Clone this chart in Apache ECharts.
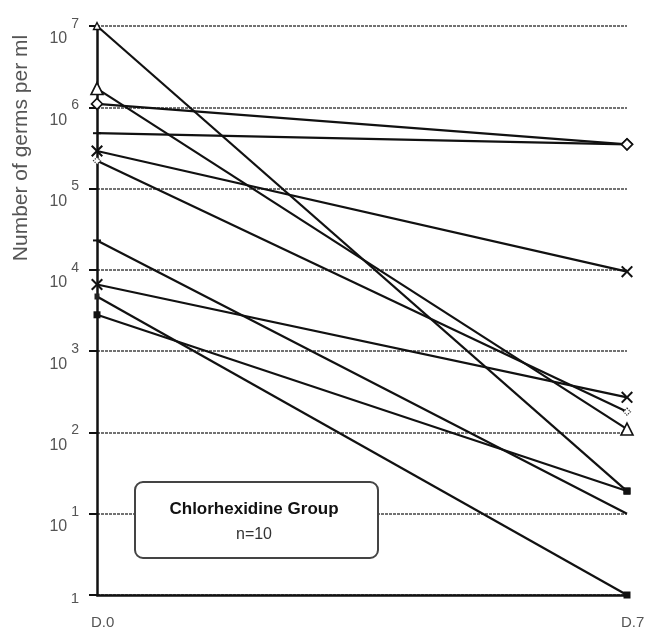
<!DOCTYPE html>
<html><head><meta charset="utf-8">
<script src="https://cdn.jsdelivr.net/npm/echarts@6/dist/echarts.min.js"></script>
<style>html,body{margin:0;padding:0;background:#fff}#c{width:663px;height:636px}</style>
</head><body><div id="c"></div>
<script>
// ---- data ----
const categories = ['D.0', 'D.7'];
const day0 = [1e7, 1.7e6, 1.1e6, 4.8e5, 2.9e5, 2.2e5, 2.3e4, 6.6e3, 4.7e3, 2.8e3];
const day7 = [19, 110, 3.5e5, 3.5e5, 9.5e3, 180, 10, 270, 1, 19];
const yTickValues = [1, 10, 100, 1e3, 1e4, 1e5, 1e6, 1e7];
const boxTitle = 'Chlorhexidine Group';
const boxSub = 'n=10';
const yName = 'Number of germs per ml';

// ---- marker styles (start, end) ----
const X = 'path://M0,1.2 L1.2,0 L5,3.8 L8.8,0 L10,1.2 L6.2,5 L10,8.8 L8.8,10 L5,6.2 L1.2,10 L0,8.8 L3.8,5 Z';
const mk = {
  tri: {symbol: 'triangle', symbolSize: 12, itemStyle: {color: '#fff', borderColor: '#111', borderWidth: 1.6}},
  triS: {symbol: 'triangle', symbolSize: 7, itemStyle: {color: '#fff', borderColor: '#111', borderWidth: 1.4}},
  dia: {symbol: 'diamond', symbolSize: 11, itemStyle: {color: '#fff', borderColor: '#111', borderWidth: 1.6}},
  diaS: {symbol: 'diamond', symbolSize: 7, itemStyle: {color: '#fff', borderColor: '#333', borderWidth: 1.2, borderType: 'dotted'}},
  x: {symbol: X, symbolSize: 12, itemStyle: {color: '#111', borderWidth: 0}},
  sq: {symbol: 'rect', symbolSize: 7, itemStyle: {color: '#111', borderWidth: 0}},
  sqS: {symbol: 'rect', symbolSize: [5, 6], itemStyle: {color: '#222', borderWidth: 0}},
  tick: {symbol: 'rect', symbolSize: [8, 2], itemStyle: {color: '#111', borderWidth: 0}},
  none: {symbol: 'none'}
};
const markers = [
  ['triS', 'sq'], ['tri', 'tri'], ['dia', 'dia'], ['tick', 'dia'], ['x', 'x'],
  ['diaS', 'diaS'], ['tick', 'none'], ['x', 'x'], ['sqS', 'sq'], ['sq', 'sq']
];

const series = day0.map((v, i) => ({
  type: 'line',
  name: 'P' + (i + 1),
  data: [
    Object.assign({value: v}, mk[markers[i][0]]),
    Object.assign({value: day7[i]}, mk[markers[i][1]])
  ],
  showSymbol: true,
  lineStyle: {color: '#111', width: 2.2},
  itemStyle: {color: '#111'},
  emphasis: {disabled: true},
  animation: false,
  z: 3
}));

const FF = 'Liberation Sans, Arial, sans-serif';
const chart = echarts.init(document.getElementById('c'), null, {renderer: 'canvas'});
chart.setOption({
  backgroundColor: '#fff',
  animation: false,
  grid: {left: 97, right: 36, top: 26, bottom: 41},
  xAxis: {
    type: 'category', data: categories, boundaryGap: false,
    axisLine: {lineStyle: {color: '#111', width: 2.5}},
    axisTick: {show: false},
    axisLabel: {color: '#555', fontSize: 15, fontFamily: FF, margin: 20, align: 'left', padding: [0, 0, 0, -6]}
  },
  yAxis: {
    type: 'log', logBase: 10, min: 1, max: 1e7,
    axisLine: {show: true, lineStyle: {color: '#111', width: 2.5}},
    axisTick: {show: true, length: 8, lineStyle: {color: '#111', width: 2}},
    splitLine: {show: true, lineStyle: {color: '#444', width: 1.6, type: [3, 1]}},
    axisLabel: {
      margin: 18,
      formatter: function (v) {
        if (yTickValues.indexOf(v) < 0) return '';
        if (v === 1) return '{o|1}';
        return '{b|10}{s|' + Math.round(Math.log10(v)) + '}';
      },
      rich: {
        o: {fontSize: 15, color: '#555', fontFamily: FF, padding: [8, 0, 0, 0]},
        b: {fontSize: 16, color: '#555', fontFamily: FF, padding: [26, 0, 0, 0]},
        s: {fontSize: 14, color: '#555', fontFamily: FF, padding: [0, 0, 4, 4]}
      }
    }
  },
  graphic: [
    {type: 'text', x: 21, y: 148, rotation: Math.PI / 2, z: 10,
     style: {text: yName, fill: '#555', fontSize: 21, fontFamily: FF, textAlign: 'center', textVerticalAlign: 'middle'}},
    {type: 'rect', z: 10, shape: {x: 135, y: 482, width: 243, height: 76, r: 8},
     style: {fill: '#fff', stroke: '#444', lineWidth: 2}},
    {type: 'text', z: 11, x: 254, y: 509,
     style: {text: boxTitle, fill: '#111', fontSize: 17, fontWeight: 'bold', fontFamily: FF, textAlign: 'center', textVerticalAlign: 'middle'}},
    {type: 'text', z: 11, x: 254, y: 535,
     style: {text: boxSub, fill: '#333', fontSize: 16, fontFamily: FF, textAlign: 'center', textVerticalAlign: 'middle'}}
  ],
  series: series
});
</script>
</body></html>
